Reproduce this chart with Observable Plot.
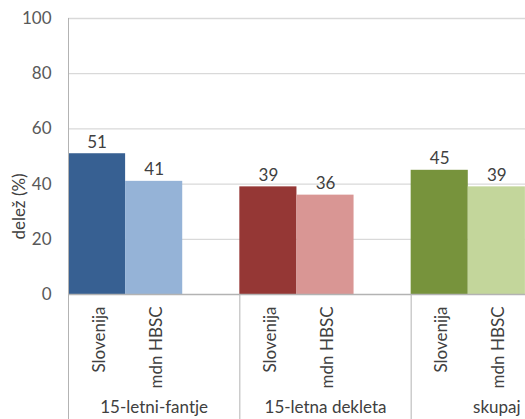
<!DOCTYPE html>
<html><head><meta charset="utf-8">
<script src="https://cdn.jsdelivr.net/npm/d3@7"></script>
<script src="https://cdn.jsdelivr.net/npm/@observablehq/plot@0.6"></script>
<style>html,body{margin:0;padding:0;background:#fff;overflow:hidden}</style>
</head><body><div id="chart"></div>
<script>
const groups = ["15-letni-fantje", "15-letna dekleta", "skupaj"];
const series = ["Slovenija", "mdn HBSC"];
const slovenija = [51, 39, 45];
const mdnHBSC = [41, 36, 39];
const yTicks = [0, 20, 40, 60, 80, 100];
const yTitle = "delež (%)";
const palette = ["#376092", "#95B3D7", "#953735", "#D99694", "#77933C", "#C3D69B"];
const slotsPerGroup = 3;

const rows = [];
groups.forEach((g, i) => {
  [slovenija[i], mdnHBSC[i]].forEach((v, j) => {
    rows.push({group: g, series: series[j], value: v, pos: i * slotsPerGroup + j, key: g + "|" + series[j]});
  });
});
const nSlots = groups.length * slotsPerGroup;
const fs = 17;

const chart = Plot.plot({
  width: 525, height: 419,
  marginLeft: 68, marginTop: 18, marginBottom: 125, marginRight: -57,
  style: {fontFamily: "Lato, 'Open Sans', sans-serif", fontSize: fs + "px", color: "#595959", overflow: "hidden", background: "#fff"},
  x: {type: "linear", domain: [0, nSlots]},
  y: {domain: [0, 100]},
  color: {type: "ordinal", domain: rows.map(d => d.key), range: palette},
  marks: [
    Plot.ruleY(yTicks.slice(1), {stroke: "#D9D9D9", strokeWidth: 1.3}),
    Plot.rectY(rows, {x1: "pos", x2: d => d.pos + 1, y: "value", fill: "key"}),
    Plot.ruleY([0], {stroke: "#B3B3B3", strokeWidth: 1.3}),
    Plot.axisY(yTicks, {tickSize: 0, tickPadding: 17, label: null, fill: "#595959", fontSize: fs}),
    Plot.axisX(d3.range(0, nSlots + 1, slotsPerGroup), {tickSize: 125, tickFormat: () => "", label: null, stroke: "#B3B3B3"}),
    Plot.ruleX([0], {stroke: "#B3B3B3"}),
    Plot.text(rows, {x: d => d.pos + 0.5, y: "value", text: d => String(d.value), lineAnchor: "bottom", dy: -6, fill: "#404040", fontSize: fs}),
    Plot.text(rows, {x: d => d.pos + 0.5, frameAnchor: "bottom", text: "series", rotate: -90, textAnchor: "end", lineAnchor: "middle", dx: 2, dy: 12, fill: "#404040", fontSize: fs}),
    Plot.text(groups, {x: (d, i) => i * slotsPerGroup + slotsPerGroup / 2, frameAnchor: "bottom", text: d => d, textAnchor: "middle", lineAnchor: "middle", dy: 113, fill: "#404040", fontSize: fs}),
    Plot.text([yTitle], {frameAnchor: "left", rotate: -90, textAnchor: "middle", lineAnchor: "middle", dx: -49, dy: 50, fill: "#404040", fontSize: fs})
  ]
});
document.getElementById("chart").append(chart);
</script>
</body></html>
